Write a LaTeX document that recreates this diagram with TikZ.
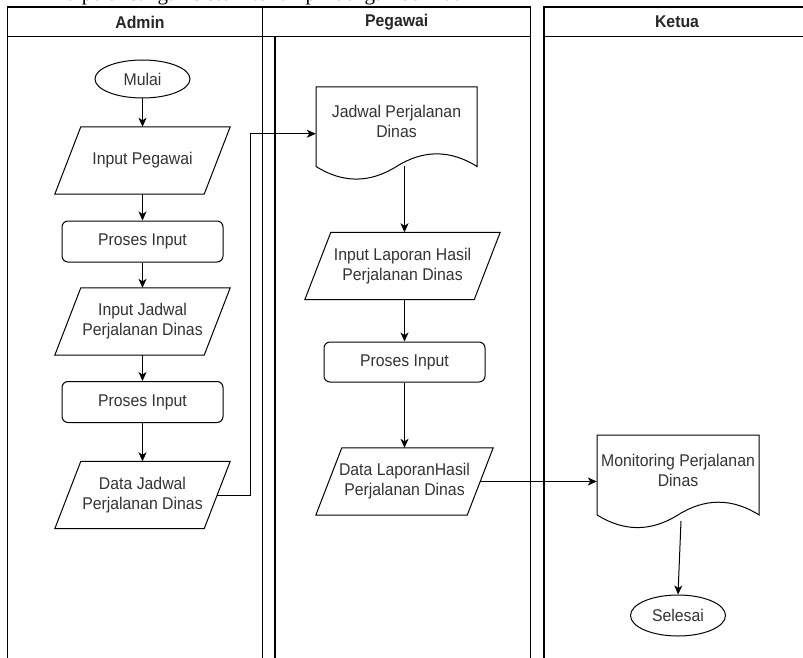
\documentclass[tikz,border=0pt]{standalone}
\usepackage{fontspec}
\setmainfont{Liberation Serif}
\newfontfamily\flowfont[FakeStretch=0.93]{Liberation Sans}
\usetikzlibrary{arrows.meta,calc,shapes.geometric}

\tikzset{
  lane/.style={line width=1.1pt, draw=black},
  lanetitle/.style={font=\flowfont\bfseries\fontsize{17}{20}\selectfont, text=black!85, inner sep=0pt},
  box/.style={font=\flowfont\fontsize{17}{20}\selectfont, text=black!80, align=center, inner sep=0pt},
  proc/.style={box, draw, line width=1pt, rounded corners=6pt, minimum width=161pt, minimum height=41pt},
  term/.style={box, draw, line width=1pt, ellipse, minimum width=95pt, minimum height=38pt},
  io/.style={box, minimum width=175pt, minimum height=67pt,
    append after command={\pgfextra{%
      \draw[line width=1pt] ($(\tikzlastnode.north west)+(26pt,0pt)$) -- (\tikzlastnode.north east)
        -- ($(\tikzlastnode.south east)+(-26pt,0pt)$) -- (\tikzlastnode.south west) -- cycle;}}},
  arr/.style={line width=1pt, -{Stealth[length=9pt,width=8pt,inset=2.5pt]}},
}

% document symbol: box from (#2,#3) to (#4,#5) with a wavy lower edge
\newcommand\docnode[6]{%
  \pgfmathsetmacro\dcW{#4-#2}%
  \pgfmathsetmacro\dcH{#5-#3}%
  \pgfmathsetmacro\dcD{0.3*\dcH}%
  \pgfmathsetmacro\dcYb{#5-\dcD/2}%
  \pgfmathsetmacro\dcYr{#5-1.4*\dcD}%
  \pgfmathsetmacro\dcYl{#5+0.4*\dcD}%
  \pgfmathsetmacro\dcMx{(#2+#4)/2}%
  \pgfmathsetmacro\dcQr{#2+0.75*\dcW}%
  \pgfmathsetmacro\dcQl{#2+0.25*\dcW}%
  \pgfmathsetmacro\dcMy{(#3+#5)/2}%
  \draw[line width=1pt] (#2,#3) -- (#4,#3) -- (#4,\dcYb)
    .. controls ({#4+2/3*(\dcQr-#4)},{\dcYb+2/3*(\dcYr-\dcYb)}) and ({\dcMx+2/3*(\dcQr-\dcMx)},{\dcYb+2/3*(\dcYr-\dcYb)}) .. (\dcMx,\dcYb)
    .. controls ({\dcMx+2/3*(\dcQl-\dcMx)},{\dcYb+2/3*(\dcYl-\dcYb)}) and ({#2+2/3*(\dcQl-#2)},{\dcYb+2/3*(\dcYl-\dcYb)}) .. (#2,\dcYb)
    -- cycle;
  \node[inner sep=0pt, minimum width=\dcW pt, minimum height=\dcH pt] (#1) at (\dcMx,\dcMy) {};
  \node[box] (#1-t) at (\dcMx,\dcMy-12) {#6};
  \coordinate (#1-wave) at (\dcMx,\dcYb);
}

\begin{document}
\begin{tikzpicture}[x=1pt,y=-1pt]
  \useasboundingbox (0,0) rectangle (803,658);

  % line of running text above the chart, mostly cut off
  \begin{scope}
    \clip (0,0) rectangle (803,658);
    \node[anchor=base west, inner sep=0pt, font=\fontsize{21}{25}\selectfont] (caption) at (60,0.5)
      {ra perancangan sistem terlampir dengan berikut};
  \end{scope}

  % swimlanes
  \draw[lane] (7.3,660) -- (7.3,7) -- (530.7,7) -- (530.7,660);
  \draw[lane] (7.3,36.7) -- (530.7,36.7);
  \draw[lane] (262.7,7) -- (262.7,660);
  \draw[lane] (275,36.7) -- (275,660);
  \draw[lane] (806,7) -- (544,7) -- (544,660);
  \draw[lane] (544,36.7) -- (806,36.7);
  \node[lanetitle] (hadmin) at (140,22) {Admin};
  \node[lanetitle] (hpegawai) at (396.7,22) {Pegawai};
  \node[lanetitle] (hketua) at (677,22) {Ketua};

  % Admin
  \node[term] (mulai) at (142.5,79) {Mulai};
  \node[io] (inpeg) at (142.5,160.5) {Input Pegawai};
  \node[proc] (proses1) at (142.5,241.5) {Proses Input};
  \node[io] (injad) at (142.5,321.5) {Input Jadwal\\Perjalanan Dinas};
  \node[proc] (proses2) at (142.5,402) {Proses Input};
  \node[io] (datajad) at (142.5,495) {Data Jadwal\\Perjalanan Dinas};

  % Pegawai
  \docnode{jadwal}{316}{87}{477}{180.5}{Jadwal Perjalanan\\Dinas}
  \node[io, minimum width=195pt] (inlap) at (402.5,266) {Input Laporan Hasil\\Perjalanan Dinas};
  \node[proc, minimum height=40pt] (proses3) at (404.5,362) {Proses Input};
  \node[io, minimum width=177pt] (datalap) at (404.5,481.5) {Data LaporanHasil\\Perjalanan Dinas};

  % Ketua
  \docnode{monitor}{597}{435}{759}{529}{Monitoring Perjalanan\\Dinas}
  \node[term, minimum height=41pt] (selesai) at (678,615.5) {Selesai};

  % flow
  \draw[arr] (mulai.south) -- (inpeg.north);
  \draw[arr] (inpeg.south) -- (proses1.north);
  \draw[arr] (proses1.south) -- (injad.north);
  \draw[arr] (injad.south) -- (proses2.north);
  \draw[arr] (proses2.south) -- (datajad.north);
  \draw[arr] ($(datajad.east)+(-13pt,0pt)$) -- ++(33,0) |- (jadwal.west);
  \draw[arr] (jadwal-wave -| proses3.north) -- (inlap.north -| proses3.north);
  \draw[arr] (inlap.south -| proses3.north) -- (proses3.north);
  \draw[arr] (proses3.south) -- (datalap.north);
  \draw[arr] ($(datalap.east)+(-13pt,0pt)$) -- (datalap.east -| monitor.west);
  \draw[arr] ($(monitor-wave)+(3,6)$) -- (selesai.north);
\end{tikzpicture}
\end{document}
